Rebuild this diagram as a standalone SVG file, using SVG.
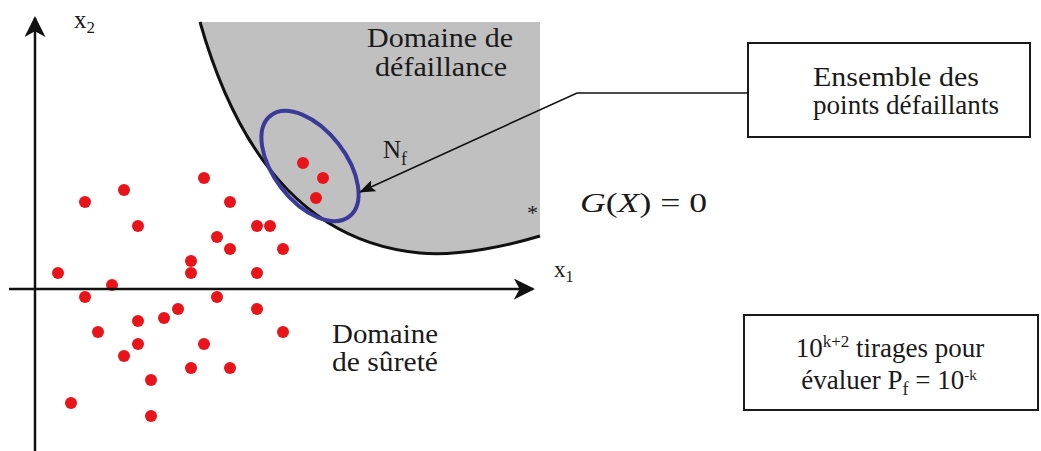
<svg xmlns="http://www.w3.org/2000/svg" width="1041" height="451" viewBox="0 0 1041 451">
  <style>
    .t { font-family: "Liberation Serif", "Times New Roman", Times, serif; fill: #1a1a1a; }
    .dot { fill: #e8141a; }
    .box { fill: #ffffff; stroke: #1a1a1a; stroke-width: 2; }
    .axis { fill: none; stroke: #111111; stroke-width: 2.5; }
  </style>
  <defs>
    <marker id="axisHead" viewBox="0 0 22 22" refX="20" refY="11" markerWidth="21" markerHeight="21" markerUnits="userSpaceOnUse" orient="auto">
      <path d="M0,0 L22,11 L0,22 L6,11 Z" fill="#111111"/>
    </marker>
    <marker id="calloutHead" viewBox="0 0 16 12" refX="15" refY="6" markerWidth="16" markerHeight="12" markerUnits="userSpaceOnUse" orient="auto">
      <path d="M0,0 L16,6 L0,12 L3,6 Z" fill="#111111"/>
    </marker>
  </defs>
  <rect width="1041" height="451" fill="#ffffff"/>

  <g id="failure-domain">
    <path d="M200,22 C225,110 280,240 420,253 C460,256.7 510,245 540,236 L540,22 Z" fill="#c0c0c0"/>
    <path d="M200,22 C225,110 280,240 420,253 C460,256.7 510,245 540,236" fill="none" stroke="#111111" stroke-width="3"/>
    <text class="t" font-family="Liberation Serif, serif" x="367" y="47" font-size="28" textLength="146" lengthAdjust="spacingAndGlyphs">Domaine de</text>
    <text class="t" font-family="Liberation Serif, serif" x="375" y="76" font-size="28" textLength="132" lengthAdjust="spacingAndGlyphs">défaillance</text>
  </g>

  <g id="limit-state-label">
    <text class="t" font-family="Liberation Serif, serif" x="527" y="220" font-size="22">*</text>
    <text class="t" font-family="Liberation Serif, serif" x="580" y="212" font-size="28" textLength="127" lengthAdjust="spacingAndGlyphs"><tspan font-style="italic">G</tspan>(<tspan font-style="italic">X</tspan>) = 0</text>
  </g>

  <g id="failure-set">
    <ellipse cx="310" cy="166" rx="64" ry="36" transform="rotate(52 310 166)" fill="none" stroke="#3a3a98" stroke-width="4"/>
    <circle class="dot" cx="303" cy="163" r="6"/>
    <circle class="dot" cx="323" cy="178" r="6"/>
    <circle class="dot" cx="316" cy="198" r="6"/>
    <text class="t" font-family="Liberation Serif, serif" x="383" y="158" font-size="25"><tspan>N</tspan><tspan dy="7" font-size="18">f</tspan></text>
  </g>

  <g id="safe-points">
    <circle class="dot" cx="85" cy="202" r="6"/>
    <circle class="dot" cx="124" cy="190" r="6"/>
    <circle class="dot" cx="138" cy="226" r="6"/>
    <circle class="dot" cx="204" cy="178" r="6"/>
    <circle class="dot" cx="230" cy="202" r="6"/>
    <circle class="dot" cx="257" cy="226" r="6"/>
    <circle class="dot" cx="270" cy="226" r="6"/>
    <circle class="dot" cx="217" cy="237" r="6"/>
    <circle class="dot" cx="230" cy="249" r="6"/>
    <circle class="dot" cx="283" cy="249" r="6"/>
    <circle class="dot" cx="191" cy="261" r="6"/>
    <circle class="dot" cx="191" cy="273" r="6"/>
    <circle class="dot" cx="257" cy="273" r="6"/>
    <circle class="dot" cx="58" cy="273" r="6"/>
    <circle class="dot" cx="112" cy="285" r="6"/>
    <circle class="dot" cx="85" cy="297" r="6"/>
    <circle class="dot" cx="217" cy="297" r="6"/>
    <circle class="dot" cx="178" cy="309" r="6"/>
    <circle class="dot" cx="257" cy="309" r="6"/>
    <circle class="dot" cx="138" cy="321" r="6"/>
    <circle class="dot" cx="164" cy="318" r="6"/>
    <circle class="dot" cx="98" cy="332" r="6"/>
    <circle class="dot" cx="283" cy="332" r="6"/>
    <circle class="dot" cx="138" cy="344" r="6"/>
    <circle class="dot" cx="204" cy="344" r="6"/>
    <circle class="dot" cx="124" cy="356" r="6"/>
    <circle class="dot" cx="191" cy="368" r="6"/>
    <circle class="dot" cx="230" cy="368" r="6"/>
    <circle class="dot" cx="151" cy="380" r="6"/>
    <circle class="dot" cx="71" cy="403" r="6"/>
    <circle class="dot" cx="151" cy="416" r="6"/>
  </g>

  <g id="safe-domain-label">
    <text class="t" font-family="Liberation Serif, serif" x="332" y="343" font-size="28" textLength="106" lengthAdjust="spacingAndGlyphs">Domaine</text>
    <text class="t" font-family="Liberation Serif, serif" x="332" y="371" font-size="28" textLength="106" lengthAdjust="spacingAndGlyphs">de sûreté</text>
  </g>

  <g id="axis-labels">
    <text class="t" font-family="Liberation Serif, serif" x="74" y="28" font-size="25"><tspan>x</tspan><tspan dy="5" font-size="17">2</tspan></text>
    <text class="t" font-family="Liberation Serif, serif" x="554" y="277" font-size="23"><tspan>x</tspan><tspan dy="5" font-size="16">1</tspan></text>
  </g>

  <g id="box-failing-points">
    <rect class="box" x="748" y="43" width="282" height="94"/>
    <text class="t" font-family="Liberation Serif, serif" x="813" y="86" font-size="28" textLength="166" lengthAdjust="spacingAndGlyphs">Ensemble des</text>
    <text class="t" font-family="Liberation Serif, serif" x="813" y="114" font-size="28" textLength="186" lengthAdjust="spacingAndGlyphs">points défaillants</text>
  </g>

  <g id="box-draws">
    <rect class="box" x="744" y="315" width="294" height="95"/>
    <text class="t" font-family="Liberation Serif, serif" x="890" y="357" font-size="27" text-anchor="middle"><tspan>10</tspan><tspan dy="-10" font-size="17">k+2</tspan><tspan dy="10"> tirages pour</tspan></text>
    <text class="t" font-family="Liberation Serif, serif" x="889" y="389" font-size="27" text-anchor="middle"><tspan>évaluer P</tspan><tspan dy="6" font-size="18">f</tspan><tspan dy="-6"> = 10</tspan><tspan dy="-9" font-size="15">-k</tspan></text>
  </g>

  <g id="connectors">
    <line class="axis" x1="35" y1="451" x2="35" y2="18" marker-end="url(#axisHead)"/>
    <line class="axis" x1="9" y1="289" x2="533" y2="289" marker-end="url(#axisHead)"/>
    <polyline points="748,93 577,93 360,192" fill="none" stroke="#111111" stroke-width="1.6" marker-end="url(#calloutHead)"/>
  </g>
</svg>
